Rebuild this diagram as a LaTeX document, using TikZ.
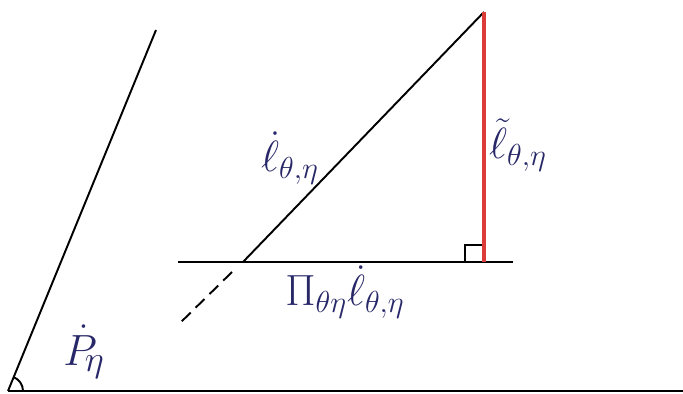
\documentclass[tikz,border=0pt]{standalone}
\usetikzlibrary{calc}
\usepackage{amsmath}
\usepackage{amssymb}
\usepackage{xcolor}
\definecolor{inkcolour}{RGB}{40,40,105}
\definecolor{tangentcolour}{RGB}{220,60,55}
\newcommand{\inklabel}[1]{\textcolor{inkcolour}{#1}}
\tikzset{
  pen/.style={line width=1.1pt, black},
  tangentpen/.style={line width=2.3pt, tangentcolour},
  lbl/.style={font=\Huge, inner sep=1pt}
}

\begin{document}
\begin{tikzpicture}[x=0.02cm,y=-0.02cm]

\useasboundingbox (0,0) rectangle (683,394);

% model line and ground
\coordinate (base0) at (8,391);
\coordinate (base1) at (683,391);
\coordinate (model) at (156,30);
\draw[pen] (base0) -- (base1);
\draw[pen] (base0) -- (model);
\draw[pen] ($(base0)+(15,0)$) arc[start angle=0, end angle=-68, radius=15];
\node[lbl] (plabel) at (84,352) {\inklabel{$\dot{P}_{\!\eta}$}};

% tangent space and score
\coordinate (tan0) at (178,262);
\coordinate (tan1) at (513,262);
\coordinate (foot) at (484,262);
\coordinate (apex) at (484,12);
\coordinate (origin) at (243,262);
\coordinate (dash0) at (232,272);
\coordinate (dash1) at (178,325);
\draw[pen] (tan0) -- (tan1);
\draw[pen] (origin) -- (apex);
\draw[pen, dashed, dash pattern=on 7pt off 4pt] (dash0) -- (dash1);
\draw[pen] ($(foot)+(-19,0)$) |- ($(foot)+(0,-17)$);
\draw[tangentpen] (foot) -- (apex);

\node[lbl] (score) at (290,158) {\inklabel{$\dot{\ell}_{\scriptscriptstyle\theta,\eta}$}};
\node[lbl] (effscore) at (518,145) {\inklabel{$\tilde{\ell}_{\scriptscriptstyle\theta,\eta}$}};
\node[lbl] (proj) at (345,292) {\inklabel{$\Pi_{\scriptscriptstyle\theta\eta}\dot{\ell}_{\scriptscriptstyle\theta,\eta}$}};

\end{tikzpicture}
\end{document}
